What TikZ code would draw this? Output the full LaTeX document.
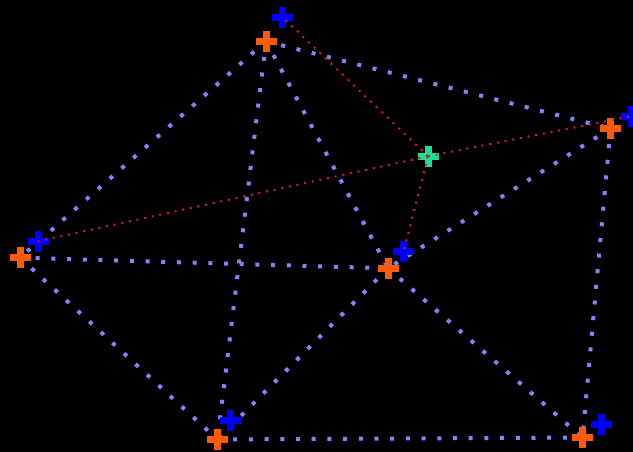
\documentclass[tikz,border=0pt]{standalone}
\definecolor{lav}{RGB}{135,130,250}
\definecolor{crim}{RGB}{220,20,60}
\definecolor{orangemk}{RGB}{255,90,10}
\definecolor{bluemk}{RGB}{0,0,255}
\definecolor{greenmk}{RGB}{20,225,145}
\begin{document}
\begin{tikzpicture}[x=1pt,y=-1pt,
  edge/.style={draw=lav, line width=4pt, dash pattern=on 4pt off 11.7pt},
  link/.style={draw=crim, line width=2pt, dash pattern=on 2pt off 5.8pt},
  pics/plusm/.style={code={
    \fill[#1] (-10.5,-3.5) rectangle (10.5,3.5);
    \fill[#1] (-3.5,-10.5) rectangle (3.5,10.5);}}]
\fill[black] (0,0) rectangle (633,452);
\useasboundingbox (0,0) rectangle (633,452);
% orange vertices
\coordinate (A) at (266,41.3);
\coordinate (B) at (610.5,128.5);
\coordinate (C) at (20,257.7);
\coordinate (D) at (388,268.3);
\coordinate (E) at (217.5,439.5);
\coordinate (F) at (582.5,437.5);
% blue points
\coordinate (a) at (282.5,17.2);
\coordinate (b) at (631,116.3);
\coordinate (c) at (38,241.3);
\coordinate (d) at (403.5,251.3);
\coordinate (e) at (230,420.5);
\coordinate (f) at (601,424.5);
% green point
\coordinate (g) at (428,156.3);
% triangulation edges
\draw[edge] (A) -- (B);
\draw[edge] (A) -- (C);
\draw[edge] (A) -- (E);
\draw[edge] (A) -- (D);
\draw[edge] (B) -- (D);
\draw[edge] (B) -- (F);
\draw[edge] (C) -- (D);
\draw[edge] (C) -- (E);
\draw[edge] (D) -- (E);
\draw[edge] (D) -- (F);
\draw[edge] (E) -- (F);
% markers
\foreach \p in {A,B,C,D,E,F} \pic at (\p) {plusm=orangemk};
\foreach \p in {a,b,c,d,e,f} \pic at (\p) {plusm=bluemk};
\pic at (g) {plusm=greenmk};
% red links
\draw[link] (g) -- (a);
\draw[link] (g) -- (b);
\draw[link] (g) -- (c);
\draw[link] (g) -- (d);
\end{tikzpicture}
\end{document}
